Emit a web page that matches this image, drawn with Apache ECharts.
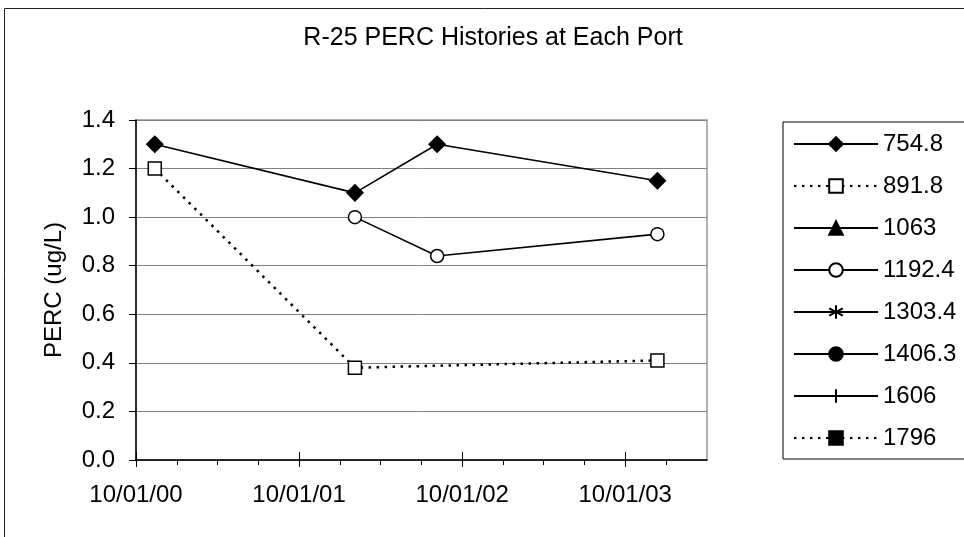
<!DOCTYPE html>
<html>
<head>
<meta charset="utf-8">
<script src="https://cdn.jsdelivr.net/npm/echarts@6/dist/echarts.min.js"></script>
<style>html,body{margin:0;padding:0;background:#fff}#c{width:964px;height:537px}</style>
</head>
<body>
<div id="c"></div>
<script>
// ---- data ----
const titleText = 'R-25 PERC Histories at Each Port';
const yName = 'PERC (ug/L)';
const seriesNames = ['754.8', '891.8', '1063', '1192.4', '1303.4', '1406.3', '1606', '1796'];
const dates754 = ['2000-11-12', '2002-02-03', '2002-08-06', '2003-12-12'];
const values754 = [1.30, 1.10, 1.30, 1.15];
const dates891 = ['2000-11-12', '2002-02-03', '2003-12-12'];
const values891 = [1.20, 0.38, 0.41];
const dates1192 = ['2002-02-03', '2002-08-06', '2003-12-12'];
const values1192 = [1.00, 0.84, 0.93];
const xTickDates = ['2000-10-01', '2001-10-01', '2002-10-01', '2003-10-01'];
const xTickLabels = ['10/01/00', '10/01/01', '10/01/02', '10/01/03'];
const xStartDate = '2000-10-01';
const xEndDate = '2004-04-01';
const yMin = 0, yMax = 1.4, yStep = 0.2;

// ---- helpers ----
const DAY = 86400000;
function toMs(s) { const p = s.split('-').map(Number); return Date.UTC(p[0], p[1] - 1, p[2]); }
const base = toMs(xStartDate);
function off(s) { return Math.round((toMs(s) - base) / DAY); }
function pairs(d, v) { return d.map((s, i) => [off(s), v[i]]); }
const xMax = off(xEndDate);
const yearTicks = xTickDates.map(off);
// quarterly minor ticks (every 3 months)
const minorTicks = [];
{
  const p = xStartDate.split('-').map(Number);
  for (let k = 0; ; k++) {
    const t = Math.round((Date.UTC(p[0], p[1] - 1 + 3 * k, p[2]) - base) / DAY);
    if (t >= xMax) break;
    if (yearTicks.indexOf(t) < 0) minorTicks.push(t);
  }
}

const FONT = 'Liberation Sans, Arial, sans-serif';
const FS = 24;
const asterisk = 'path://M10,0L10,20M1.5,4.5L18.5,15.5M18.5,4.5L1.5,15.5';
const plus = 'path://M10,0L10,20M0,10L20,10';

function mk(name, data, symbol, size, fill, dotted) {
  return {
    name: name, type: 'line', xAxisIndex: 0, yAxisIndex: 0,
    data: data, symbol: symbol, symbolSize: size, showSymbol: true,
    animation: false,
    lineStyle: { color: '#000', width: dotted ? 2.5 : 1.6, type: dotted ? [2.5, 5.5] : 'solid' },
    itemStyle: { color: fill, borderColor: '#000', borderWidth: 1.5 },
    emphasis: { disabled: true }
  };
}

const series = [
  mk(seriesNames[0], pairs(dates754, values754), 'diamond', 16, '#000', false),
  mk(seriesNames[1], pairs(dates891, values891), 'rect', 13, '#fff', true),
  mk(seriesNames[2], [], 'triangle', 14, '#000', false),
  mk(seriesNames[3], pairs(dates1192, values1192), 'circle', 13, '#fff', false),
  mk(seriesNames[4], [], asterisk, 14, '#000', false),
  mk(seriesNames[5], [], 'circle', 14, '#000', false),
  mk(seriesNames[6], [], plus, 14, '#000', false),
  mk(seriesNames[7], [], 'rect', 14, '#000', true)
];

const xCommon = { type: 'value', gridIndex: 0, position: 'bottom', min: 0, max: xMax, splitLine: { show: false } };

const option = {
  animation: false,
  backgroundColor: '#fff',
  textStyle: { fontFamily: FONT },
  title: {
    text: titleText, left: 493, top: 26, textAlign: 'center', padding: 0,
    textStyle: { fontFamily: FONT, fontSize: 25, fontWeight: 'normal', color: '#000' }
  },
  graphic: [{
    type: 'rect', z: -10, silent: true,
    shape: { x: 4.5, y: 8.5, width: 1000, height: 600 },
    style: { fill: 'none', stroke: '#222', lineWidth: 1 }
  }],
  grid: { left: 136, right: 257, top: 120, bottom: 77, show: true, borderColor: '#999', borderWidth: 1.5, backgroundColor: 'transparent' },
  legend: {
    orient: 'vertical', left: 783, top: 122,
    data: seriesNames,
    itemWidth: 84, itemHeight: 17, itemGap: 18,
    padding: [10, 80, 9, 10],
    borderColor: '#000', borderWidth: 1, backgroundColor: '#fff',
    textStyle: { fontFamily: FONT, fontSize: FS, color: '#000' },
    selectedMode: false
  },
  xAxis: [
    Object.assign({}, xCommon, {
      axisLine: { show: true, onZero: false, lineStyle: { color: '#000', width: 1.5 } },
      axisTick: { show: true, customValues: minorTicks, length: 5, lineStyle: { color: '#000', width: 1 } },
      axisLabel: {
        show: true, customValues: yearTicks, margin: 23,
        fontFamily: FONT, fontSize: FS, color: '#000',
        formatter: function (v) { const i = yearTicks.indexOf(Math.round(v)); return i >= 0 ? xTickLabels[i] : ''; }
      }
    }),
    Object.assign({}, xCommon, {
      axisLine: { show: false, onZero: false },
      axisTick: { show: true, customValues: yearTicks, length: 7, lineStyle: { color: '#000', width: 1 } },
      axisLabel: { show: false }
    }),
    Object.assign({}, xCommon, {
      axisLine: { show: false, onZero: false },
      axisTick: { show: true, inside: true, customValues: yearTicks, length: 8, lineStyle: { color: '#000', width: 1 } },
      axisLabel: { show: false }
    })
  ],
  yAxis: {
    type: 'value', min: yMin, max: yMax, interval: yStep,
    name: yName, nameLocation: 'middle', nameGap: 70, nameRotate: 90,
    nameTextStyle: { fontFamily: FONT, fontSize: FS, color: '#000' },
    axisLine: { show: true, lineStyle: { color: '#000', width: 1.5 } },
    axisTick: { show: true, length: 7, lineStyle: { color: '#000' } },
    axisLabel: { margin: 21, fontFamily: FONT, fontSize: FS, color: '#000', formatter: v => v.toFixed(1) },
    splitLine: { show: true, lineStyle: { color: '#808080', width: 1 } }
  },
  series: series
};

const chart = echarts.init(document.getElementById('c'), null, { renderer: 'canvas' });
chart.setOption(option);
</script>
</body>
</html>
